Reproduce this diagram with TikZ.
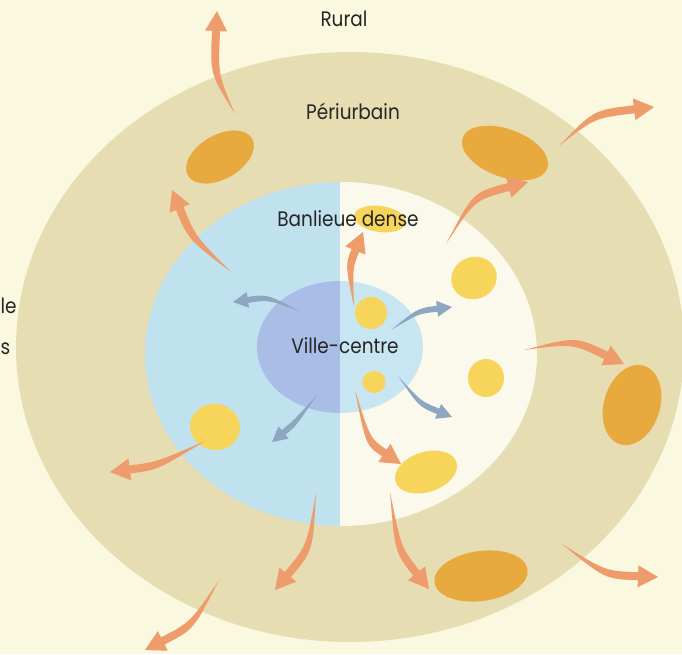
\documentclass[tikz,border=0pt]{standalone}
\usepackage{fontspec}
\setmainfont{Poppins}[FakeStretch=0.88]
\usetikzlibrary{arrows.meta,shapes.geometric,calc}
\definecolor{bgc}{HTML}{FAF8DE}
\definecolor{ringc}{HTML}{E6DDB2}
\definecolor{bluec}{HTML}{BFE2EE}
\definecolor{whitec}{HTML}{FBF9EC}
\definecolor{vcdark}{HTML}{A9BDE6}
\definecolor{vclight}{HTML}{C7E6F2}
\definecolor{darkblob}{HTML}{E8A93E}
\definecolor{yblob}{HTML}{F6D55A}
\definecolor{oarr}{HTML}{EE9C6C}
\definecolor{barr}{HTML}{8DA7C0}
\definecolor{txt}{HTML}{262626}
\tikzset{
  blob/.style={ellipse, inner sep=0pt, draw=none},
  dblob/.style={blob, fill=darkblob},
  ylw/.style={blob, fill=yblob},
  lbl/.style={text=txt, font=\fontsize{21}{24}\selectfont, inner sep=0pt}
}
% tapered arrow: #1 colour, #2 tail, #3 control, #4 tip,
% #5 shaft half-width, #6 control offset, #7 head length, #8 head half-width
\newcommand{\taperarrow}[8]{%
  \coordinate (tH) at ($(#4)!#7!(#3)$);
  \fill[#1] (#2) .. controls ($(#3)!#6!90:(#4)$) .. ($(tH)!#5!90:(#4)$)
     -- ($(tH)!#8!90:(#4)$) -- (#4) -- ($(tH)!#8!-90:(#4)$)
     -- ($(tH)!#5!-90:(#4)$) .. controls ($(#3)!#6!-90:(#4)$) .. (#2) -- cycle;
}
\newcommand{\oarrow}[3]{\taperarrow{oarr}{#1}{#2}{#3}{4pt}{4pt}{20pt}{11pt}}
\newcommand{\barrow}[3]{\taperarrow{barr}{#1}{#2}{#3}{3pt}{2.8pt}{15pt}{8pt}}
\begin{document}
\begin{tikzpicture}[x=1pt,y=-1pt]
\useasboundingbox (0,0) rectangle (682,654);
\fill[bgc] (0,0) rectangle (682,654);
% periurban ring
\fill[ringc] (350,347) ellipse [x radius=334pt, y radius=295pt];
% banlieue dense
\begin{scope}
  \clip (341,354) ellipse [x radius=196pt, y radius=172pt];
  \fill[bluec] (0,0) rectangle (340,654);
  \fill[whitec] (340,0) rectangle (682,654);
\end{scope}
% ville-centre
\begin{scope}
  \clip (340,347) ellipse [x radius=83pt, y radius=66pt];
  \fill[vcdark] (0,0) rectangle (340,654);
  \fill[vclight] (340,0) rectangle (682,654);
\end{scope}
% dark blobs (periurbain)
\node[dblob, minimum width=74pt, minimum height=44pt, rotate=30] (p1) at (220,157) {};
\node[dblob, minimum width=90pt, minimum height=48pt, rotate=-20] (p2) at (505,153) {};
\node[dblob, minimum width=56pt, minimum height=82pt, rotate=-17] (p3) at (632,405) {};
\node[dblob, minimum width=94pt, minimum height=50pt, rotate=8] (p4) at (481,576) {};
% yellow blobs
\node[ylw, minimum width=52pt, minimum height=26pt, rotate=-8] (y1) at (380,219) {};
\node[ylw, minimum width=46pt, minimum height=42pt, rotate=20] (y2) at (474,278) {};
\node[ylw, minimum width=32pt, minimum height=32pt] (y3) at (371,313) {};
\node[ylw, minimum width=23pt, minimum height=22pt] (y4) at (374,382) {};
\node[ylw, minimum width=36pt, minimum height=38pt] (y5) at (486,378) {};
\node[ylw, minimum width=64pt, minimum height=40pt, rotate=18] (y6) at (426,472) {};
\node[ylw, minimum width=50pt, minimum height=46pt, rotate=-10] (y7) at (215,427) {};
% labels
\node[lbl] (rural) at (344,19) {Rural};
\node[lbl] (peri) at (353,111) {Périurbain};
\node[lbl] (banl) at (348,219) {Banlieue dense};
\node[lbl] (ville) at (345,346) {Ville-centre};
\node[lbl, anchor=west] (cut1) at (0.5,306) {le};
\node[lbl, anchor=west] (cut2) at (0.5,349) {s};
% arrow end points
\coordinate (a1s) at (235,114); \coordinate (a1e) at (217,11);
\coordinate (a2s) at (231,272); \coordinate (a2e) at (172,190);
\coordinate (a3s) at (559,146); \coordinate (a3e) at (654,107);
\coordinate (a4s) at (446,244); \coordinate (a4e) at (528,182);
\coordinate (a5s) at (354,307); \coordinate (a5e) at (363,232);
\coordinate (a6s) at (524,350); \coordinate (a6e) at (624,364);
\coordinate (a7s) at (355,390); \coordinate (a7e) at (401,464);
\coordinate (a8s) at (390,492); \coordinate (a8e) at (429,589);
\coordinate (a9s) at (562,544); \coordinate (a9e) at (658,577);
\coordinate (a10s) at (205,441); \coordinate (a10e) at (110,472);
\coordinate (a11s) at (316,493); \coordinate (a11e) at (275,590);
\coordinate (a12s) at (219,580); \coordinate (a12e) at (145,650);
\coordinate (b1s) at (299,311); \coordinate (b1e) at (233,302);
\coordinate (b2s) at (391,330); \coordinate (b2e) at (452,307);
\coordinate (b3s) at (398,376); \coordinate (b3e) at (452,417);
\coordinate (b4s) at (317,395); \coordinate (b4e) at (272,442);
% orange arrows
\coordinate (a1c) at (214,74);   \oarrow{a1s}{a1c}{a1e}
\coordinate (a2c) at (192,238);  \oarrow{a2s}{a2c}{a2e}
\coordinate (a3c) at (594,114);  \oarrow{a3s}{a3c}{a3e}
\coordinate (a4c) at (474,196);  \oarrow{a4s}{a4c}{a4e}
\coordinate (a5c) at (349,266);  \oarrow{a5s}{a5c}{a5e}
\coordinate (a6c) at (574,340);  \oarrow{a6s}{a6c}{a6e}
\coordinate (a7c) at (368,442);  \oarrow{a7s}{a7c}{a7e}
\coordinate (a8c) at (398,550);  \oarrow{a8s}{a8c}{a8e}
\coordinate (a9c) at (605,575);  \oarrow{a9s}{a9c}{a9e}
\coordinate (a10c) at (157,466); \oarrow{a10s}{a10c}{a10e}
\coordinate (a11c) at (310,548); \oarrow{a11s}{a11c}{a11e}
\coordinate (a12c) at (192,626); \oarrow{a12s}{a12c}{a12e}
% blue arrows
\coordinate (b1c) at (268,297);  \barrow{b1s}{b1c}{b1e}
\coordinate (b2c) at (418,311);  \barrow{b2s}{b2c}{b2e}
\coordinate (b3c) at (420,404);  \barrow{b3s}{b3c}{b3e}
\coordinate (b4c) at (295,423);  \barrow{b4s}{b4c}{b4e}
\end{tikzpicture}
\end{document}
